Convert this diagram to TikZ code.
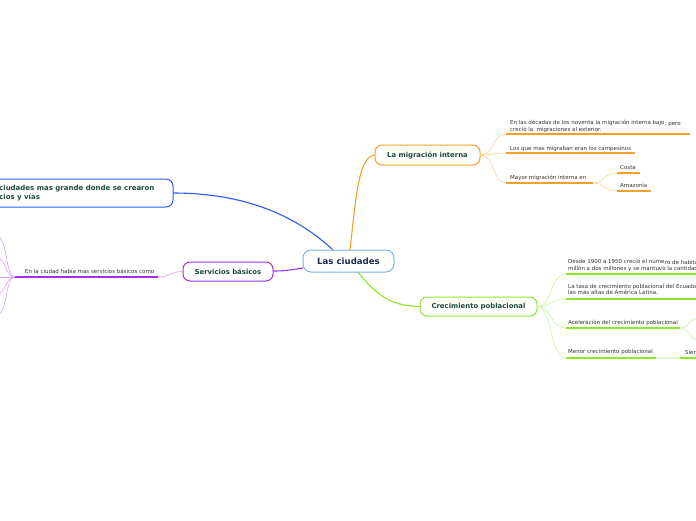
\documentclass[tikz,border=0pt]{standalone}
\usepackage{fontspec}
\setmainfont{DejaVu Sans}
\usetikzlibrary{calc}
\definecolor{cblue}{HTML}{2A5CF5}
\definecolor{corange}{HTML}{F9A02A}
\definecolor{lorange}{HTML}{FCD394}
\definecolor{cgreen}{HTML}{8EE62C}
\definecolor{lgreen}{HTML}{C8F49C}
\definecolor{pgreen}{HTML}{E2F9CC}
\definecolor{cpurple}{HTML}{A030EE}
\definecolor{lpurple}{HTML}{D8A4F6}
\definecolor{cborder}{HTML}{7FB3E0}
\definecolor{ntext}{HTML}{1D4A3A}
\definecolor{ctext}{HTML}{1B2A4A}
\definecolor{stext}{HTML}{333333}
\tikzset{
  topic/.style={draw, fill=white, rounded corners=7pt, line width=1pt, inner sep=0pt,
    font=\fontsize{6.9}{7.9}\selectfont\bfseries, text=ntext, align=center},
  central/.style={draw=cborder, fill=white, rounded corners=8pt, line width=1pt, inner sep=0pt,
    minimum width=91pt, minimum height=22pt, font=\fontsize{8.6}{9.6}\selectfont\bfseries, text=ctext},
  small/.style={inner sep=0pt, anchor=base west, font=\fontsize{5.5}{6.5}\selectfont, text=stext, align=left},
  main/.style={line width=1.1pt},
  thin/.style={line width=0.6pt},
  uline/.style={line width=1.2pt},
}
\begin{document}
\begin{tikzpicture}[x=1pt,y=-1pt]
\clip (0,0) rectangle (696,520);
\fill[white] (0,0) rectangle (696,520);

% connectors from the centre
\coordinate (cb) at (333,250);
\coordinate (co) at (350,250);
\coordinate (cg) at (358,272);
\coordinate (cp) at (303,268);
\draw[cblue, main] (cb) .. controls (285,205) and (225,193) .. (173,193);
\draw[corange, main] (co) .. controls (357,185) and (360,155) .. (376,155);
\draw[cgreen, main] (cg) .. controls (378,298) and (395,306.5) .. (421,306.5);
\draw[cpurple, main] (cp) .. controls (290,270) and (285,271) .. (273,271);

% left top node (cut at the picture edge)
\node[topic, draw=cblue, minimum width=200pt, minimum height=28pt] (lt) at (73,193) {};
\node[inner sep=0pt, anchor=west, font=\fontsize{7}{8.2}\selectfont\bfseries, text=ntext, align=left] (ltt) at (-1,193) {ciudades mas grande donde se crearon\\cios y vías};

% central
\node[central] (c) at (348.5,261) {Las ciudades};

% La migración interna
\node[topic, draw=corange, minimum width=105pt, minimum height=20pt] (mi) at (427.5,155) {La migración interna};
\coordinate (m1a) at (506,134); \coordinate (m1b) at (690,134);
\coordinate (m2a) at (506,153); \coordinate (m2b) at (635,153);
\coordinate (m3a) at (506,183); \coordinate (m3b) at (593,183);
\coordinate (m4a) at (617,173); \coordinate (m4b) at (640,173);
\coordinate (m5a) at (617,191); \coordinate (m5b) at (651,191);
\draw[lorange, thin] (mi.east) .. controls (495,155) and (492,134) .. (m1a);
\draw[lorange, thin] (mi.east) .. controls (495,155) and (492,153) .. (m2a);
\draw[lorange, thin] (mi.east) .. controls (495,155) and (492,183) .. (m3a);
\draw[lorange, thin] (m3b) .. controls (605,183) and (603,173) .. (m4a);
\draw[lorange, thin] (m3b) .. controls (605,183) and (603,191) .. (m5a);
\draw[corange, uline] (m1a) -- (m1b);
\draw[corange, uline] (m2a) -- (m2b);
\draw[corange, uline] (m3a) -- (m3b);
\draw[corange, uline] (m4a) -- (m4b);
\draw[corange, uline] (m5a) -- (m5b);
\node[small] (t1) at (510,124) {En las décadas de los noventa la migración interna bajo};
\node[small] (t1b) at (t1.base east) [yshift=-1.5pt] {, pero};
\node[small] (t1c) at (510,131) {creció la\ \ migraciones al exterior.};
\node[small] (t2) at (510,150) {Los que mas migraban eran los campesinos};
\node[small] (t3) at (510,179) {Mayor migración interna en};
\node[small] (t4) at (620,169) {Costa};
\node[small] (t5) at (620,187) {Amazonía};

% Crecimiento poblacional
\node[topic, draw=cgreen, minimum width=117pt, minimum height=19pt] (cr) at (478.5,306.5) {Crecimiento poblacional};
\coordinate (g1a) at (566,274); \coordinate (g1b) at (700,274);
\coordinate (g2a) at (566,299); \coordinate (g2b) at (700,299);
\coordinate (g3a) at (566,328); \coordinate (g3b) at (680,328);
\coordinate (g4a) at (566,358); \coordinate (g4b) at (656,358);
\coordinate (g5a) at (680,358); \coordinate (g5b) at (700,358);
\coordinate (g6) at (700,318); \coordinate (g7) at (700,340);
\draw[lgreen, thin] (cr.east) .. controls (552,306.5) and (550,274) .. (g1a);
\draw[lgreen, thin] (cr.east) .. controls (552,306.5) and (550,299) .. (g2a);
\draw[lgreen, thin] (cr.east) .. controls (552,306.5) and (550,328) .. (g3a);
\draw[lgreen, thin] (cr.east) .. controls (552,306.5) and (550,358) .. (g4a);
\draw[lgreen, thin] (g3b) .. controls (690,328) and (688,318) .. (g6);
\draw[lgreen, thin] (g3b) .. controls (690,328) and (688,340) .. (g7);
\draw[cgreen, uline] (g1a) -- (g1b);
\draw[cgreen, uline] (g2a) -- (g2b);
\draw[cgreen, uline] (g3a) -- (g3b);
\draw[cgreen, uline] (g4a) -- (g4b);
\draw[pgreen, uline] (g4b) -- (g5a);
\draw[cgreen, uline] (g5a) -- (g5b);
\node[small] (u1) at (568,263) {Desde 1900 a 1950 creció el núme};
\node[small] (u1b) at (u1.base east) [yshift=-1.2pt] {ro de habita};
\node[small] (u1c) at (568,270) {millón a dos millones y se mantuvo la cantidad};
\node[small] (u2) at (568,288) {La tasa de crecimiento poblacional del Ecuador};
\node[small] (u2b) at (568,294.5) {las más altas de América Latina.};
\node[small] (u3) at (568,324) {Aceleración del crecimiento poblacional};
\node[small] (u4) at (568,353) {Menor crecimiento poblacional};
\node[small] (u5) at (685,354) {Sier};

% Servicios básicos
\node[topic, draw=cpurple, minimum width=90pt, minimum height=19pt] (sb) at (228,271.5) {Servicios básicos};
\coordinate (s1a) at (158,277); \coordinate (s1b) at (15,277);
\draw[lpurple, thin] (sb.west) .. controls (170,271.5) and (170,277) .. (s1a);
\draw[cpurple, uline] (s1a) -- (s1b);
\node[small] (st) at (25,273) {En la ciudad había mas servicios básicos como};
\coordinate (p1) at (-3,236);
\coordinate (p2) at (-3,258);
\coordinate (p3) at (-3,277);
\coordinate (p4) at (-3,294);
\coordinate (p5) at (-3,315);
\draw[lpurple, thin] (s1b) .. controls (5,277) and (8,238) .. (p1);
\draw[lpurple, thin] (s1b) .. controls (5,277) and (6,258) .. (p2);
\draw[lpurple, thin] (s1b) -- (p3);
\draw[lpurple, thin] (s1b) .. controls (5,277) and (6,294) .. (p4);
\draw[lpurple, thin] (s1b) .. controls (5,277) and (8,313) .. (p5);
\end{tikzpicture}
\end{document}
